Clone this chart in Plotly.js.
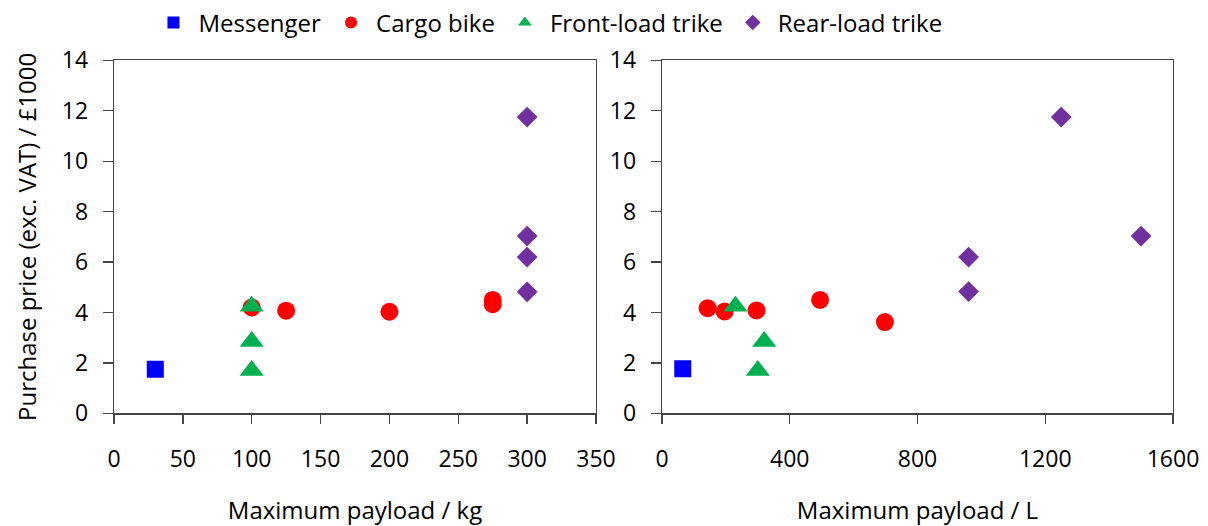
<!DOCTYPE html>
<html><head><meta charset="utf-8">
<script src="https://cdn.plot.ly/plotly-3.0.1.min.js"></script>
<style>body{margin:0;background:#fff}#c{width:1208px;height:526px}</style>
</head><body><div id="c"></div>
<script>
// Left panel: payload in kg
const messengerKg = [30];
const messengerKgPrice = [1.75];
const cargoKg = [100, 125, 200, 275, 275];
const cargoKgPrice = [4.2, 4.07, 4.03, 4.5, 4.33];
const frontKg = [100, 100, 100];
const frontKgPrice = [4.25, 2.85, 1.7];
const rearKg = [300, 300, 300, 300];
const rearKgPrice = [11.75, 7.03, 6.2, 4.82];
// Right panel: payload in L
const messengerL = [65];
const messengerLPrice = [1.77];
const cargoL = [143, 196, 296, 495, 698];
const cargoLPrice = [4.17, 4.04, 4.08, 4.5, 3.62];
const frontL = [230, 320, 300];
const frontLPrice = [4.25, 2.85, 1.7];
const rearL = [960, 960, 1250, 1500];
const rearLPrice = [6.2, 4.83, 11.75, 7.03];

const names = ["Messenger", "Cargo bike", "Front-load trike", "Rear-load trike"];
const colors = ["#0000FF", "#FF0000", "#00B050", "#7030A0"];
const symbols = ["square", "circle", "triangle-up", "diamond"];
const sizes = [17, 18, 21, 16];

const left = [[messengerKg, messengerKgPrice],[cargoKg, cargoKgPrice],[frontKg, frontKgPrice],[rearKg, rearKgPrice]];
const right = [[messengerL, messengerLPrice],[cargoL, cargoLPrice],[frontL, frontLPrice],[rearL, rearLPrice]];

const traces = [];
left.forEach((d,i)=>traces.push({x:d[0], y:d[1], type:'scatter', mode:'markers', name:names[i],
  legendgroup:names[i], marker:{color:colors[i], symbol:symbols[i], size:sizes[i]}, xaxis:'x', yaxis:'y'}));
right.forEach((d,i)=>traces.push({x:d[0], y:d[1], type:'scatter', mode:'markers', name:names[i],
  legendgroup:names[i], showlegend:false, marker:{color:colors[i], symbol:symbols[i], size:sizes[i]}, xaxis:'x2', yaxis:'y2'}));

const fnt = {family:'"Open Sans", sans-serif', size:23, color:'#000'};
const tfnt = {family:'"Open Sans", sans-serif', size:24, color:'#000'};
const axCommon = {showgrid:false, zeroline:false, showline:true, mirror:true, linecolor:'#444', linewidth:1.3,
  ticks:'outside', tickcolor:'#444', tickwidth:1.3, tickfont:fnt, automargin:false};
const yTop = (526-57.7)/526, yBot = (526-412.7)/526;

const layout = {
  width:1208, height:526, margin:{l:0,r:0,t:0,b:0}, paper_bgcolor:'#fff', plot_bgcolor:'#fff',
  font:fnt, showlegend:true,
  legend:{orientation:'h', x:0.4536, xanchor:'center', y:1.005, yanchor:'top', font:tfnt, itemsizing:'constant',
    itemwidth:40, tracegroupgap:0},
  xaxis:{...axCommon, domain:[114/1208, 596/1208], range:[0,350], tickvals:[0,50,100,150,200,250,300,350], ticklen:9,
    ticklabelstandoff:16, title:{text:'Maximum payload / kg', font:tfnt, standoff:34}, anchor:'y'},
  yaxis:{...axCommon, domain:[yBot, yTop], range:[0,14], tickvals:[0,2,4,6,8,10,12,14], ticklen:10,
    ticklabelstandoff:10, title:{text:'Purchase price (exc. VAT) / £1000', font:tfnt, standoff:18}, anchor:'x'},
  xaxis2:{...axCommon, domain:[662/1208, 1173/1208], range:[0,1600], tickvals:[0,400,800,1200,1600], ticklen:9,
    ticklabelstandoff:16, title:{text:'Maximum payload / L', font:tfnt, standoff:34}, anchor:'y2'},
  yaxis2:{...axCommon, domain:[yBot, yTop], range:[0,14], tickvals:[0,2,4,6,8,10,12,14], ticklen:10,
    ticklabelstandoff:10, anchor:'x2'}
};
Plotly.newPlot('c', traces, layout, {displayModeBar:false, staticPlot:true});
</script></body></html>
